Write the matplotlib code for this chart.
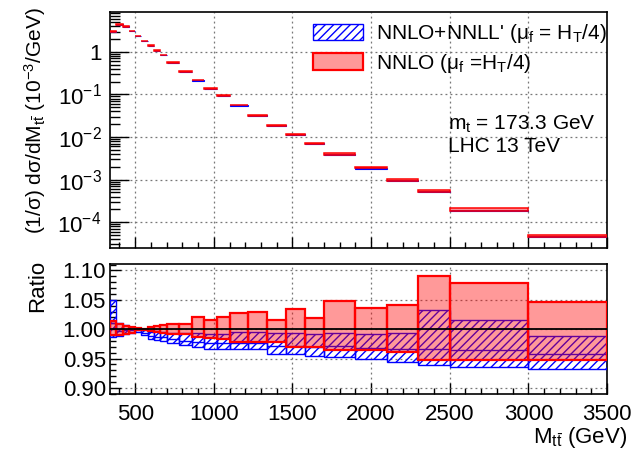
import matplotlib
matplotlib.use("Agg")
import matplotlib.pyplot as plt
import numpy as np
from matplotlib.patches import Patch
from matplotlib.ticker import FixedLocator, MultipleLocator, LogLocator, NullFormatter

plt.rcParams["font.family"] = ["Liberation Sans", "DejaVu Sans"]
plt.rcParams["mathtext.fontset"] = "custom"
plt.rcParams["mathtext.rm"] = "Liberation Sans"
plt.rcParams["mathtext.it"] = "Liberation Sans:italic"
plt.rcParams["hatch.linewidth"] = 1.0

# bin edges of M_tt (GeV)
edges = [340, 380, 420, 460, 500, 540, 580, 620, 660, 700, 780, 860, 940, 1020,
         1100, 1220, 1340, 1460, 1580, 1700, 1900, 2100, 2300, 2500, 3000, 3500]

# NNLO central values (10^-3 / GeV)
central = [3.0, 4.39, 3.94, 3.1, 2.42, 1.85, 1.41, 1.08, 0.84, 0.56, 0.347, 0.217,
           0.139, 0.093, 0.0564, 0.0323, 0.0188, 0.0116, 0.00713, 0.00401, 0.00191,
           0.000985, 0.000535, 0.000195, 4.72e-5]

# NNLO band / NNLO central
nnlo_lo = [0.990, 0.990, 0.992, 0.994, 0.998, 0.999, 0.997, 0.996, 0.993, 0.991, 0.991,
           0.986, 0.985, 0.983, 0.979, 0.978, 0.979, 0.969, 0.970, 0.965, 0.965, 0.961,
           0.947, 0.947, 0.947]
nnlo_hi = [1.014, 1.009, 1.006, 1.004, 1.002, 1.001, 1.003, 1.005, 1.007, 1.0085, 1.0085,
           1.020, 1.016, 1.021, 1.0275, 1.029, 1.015, 1.035, 1.019, 1.048, 1.036, 1.042,
           1.091, 1.078, 1.047]

# NNLO+NNLL' band / NNLO central
nnll_lo = [0.986, 0.988, 0.992, 0.994, 0.995, 0.990, 0.983, 0.981, 0.980, 0.976, 0.973,
           0.970, 0.967, 0.966, 0.966, 0.966, 0.958, 0.957, 0.954, 0.953, 0.949, 0.945,
           0.939, 0.9365, 0.9326]
nnll_hi = [1.049, 1.011, 1.007, 1.004, 1.001, 0.998, 0.996, 0.997, 0.996, 0.994, 0.993,
           0.993, 0.992, 0.992, 0.9955, 0.9955, 0.993, 0.994, 0.992, 0.994, 0.992, 0.993,
           1.032, 1.015, 0.9888]
nnll_c = [1.010, 0.997, 0.998, 0.998, 0.998, 0.994, 0.988, 0.987, 0.986, 0.983, 0.980,
          0.979, 0.977, 0.976, 0.977, 0.977, 0.972, 0.972, 0.969, 0.971, 0.968, 0.966,
          0.966, 0.9646, 0.957]

edges_a = np.array(edges, dtype=float)
left = edges_a[:-1]
width = np.diff(edges_a)
c = np.array(central)

W, H = 633, 454
fig = plt.figure(figsize=(W / 100, H / 100), dpi=100)
ax1 = fig.add_axes([110 / W, 1 - 248 / H, 497 / W, 236 / H])
ax2 = fig.add_axes([110 / W, 1 - 394 / H, 497 / W, 130 / H])

red_face = (1.0, 0.0, 0.0, 0.4)


def draw_bands(ax, scale, lw_red, lw_blue):
    lo_b = np.array(nnll_lo) * scale
    hi_b = np.array(nnll_hi) * scale
    ax.bar(left, hi_b - lo_b, bottom=lo_b, width=width, align="edge",
           facecolor="none", edgecolor="blue", hatch="////", linewidth=lw_blue, zorder=3)
    lo_r = np.array(nnlo_lo) * scale
    hi_r = np.array(nnlo_hi) * scale
    ax.bar(left, hi_r - lo_r, bottom=lo_r, width=width, align="edge",
           facecolor=red_face, edgecolor="red", linewidth=lw_red, zorder=4)


draw_bands(ax1, c, 1.1, 0.8)
draw_bands(ax2, 1.0, 1.6, 1.0)
ax2.hlines(nnll_c, left, left + width, colors="blue", linewidth=1.0, zorder=3)
ax2.axhline(1.0, color="black", linewidth=1.3, zorder=5)

for ax in (ax1, ax2):
    ax.set_xlim(340, 3500)
    ax.xaxis.set_major_locator(FixedLocator([500, 1000, 1500, 2000, 2500, 3000, 3500]))
    ax.xaxis.set_minor_locator(MultipleLocator(100))
    ax.grid(True, which="major", linestyle=(0, (1.5, 2.5)), color="#777777", linewidth=0.9)
    ax.set_axisbelow(True)
    ax.tick_params(which="both", direction="in", top=False, right=False, labelsize=16,
                   width=1.0, color="black")
    for s in ax.spines.values():
        s.set_linewidth(1.2)

ax1.set_yscale("log")
ax1.set_ylim(2.47e-5, 8.66)
ax1.yaxis.set_major_locator(FixedLocator([1e-4, 1e-3, 1e-2, 1e-1, 1]))
ax1.set_yticklabels([r"10$^{-4}$", r"10$^{-3}$", r"10$^{-2}$", r"10$^{-1}$", "1"])
ax1.yaxis.set_minor_locator(LogLocator(base=10, subs=np.arange(2, 10) * 1.0, numticks=20))
ax1.yaxis.set_minor_formatter(NullFormatter())
ax1.tick_params(axis="y", which="major", length=14, pad=6)
ax1.tick_params(axis="y", which="minor", length=7)
ax1.tick_params(axis="x", which="major", length=8, labelbottom=False)
ax1.tick_params(axis="x", which="minor", length=4)

ax2.set_ylim(0.8897, 1.111)
ax2.yaxis.set_major_locator(FixedLocator([0.90, 0.95, 1.00, 1.05, 1.10]))
ax2.set_yticklabels(["0.90", "0.95", "1.00", "1.05", "1.10"])
ax2.yaxis.set_minor_locator(MultipleLocator(0.01))
ax2.tick_params(axis="y", which="major", length=8, pad=3)
ax2.tick_params(axis="y", which="minor", length=4)
ax2.tick_params(axis="x", which="major", length=8, pad=7)
ax2.tick_params(axis="x", which="minor", length=4)

fig.text(35 / W, 1 - 121 / H, r"(1/σ) dσ/dM$_{\mathrm{t\bar{t}}}$ (10$^{-3}$/GeV)",
         rotation=90, ha="center", va="center", fontsize=15)
fig.text(38 / W, 1 - 286 / H, "Ratio", rotation=90, ha="center", va="center", fontsize=16)
fig.text(627 / W, 1 - 438 / H, r"M$_{\mathrm{t\bar{t}}}$ (GeV)", ha="right", va="center",
         fontsize=16)

ax1.text(448 / W, 1 - 124 / H, r"m$_{\mathrm{t}}$ = 173.3 GeV", transform=fig.transFigure,
         ha="left", va="center", fontsize=15)
ax1.text(448 / W, 1 - 147 / H, "LHC 13 TeV", transform=fig.transFigure,
         ha="left", va="center", fontsize=15)

handles = [
    Patch(facecolor="none", edgecolor="blue", hatch="////", linewidth=1.0,
          label=r"NNLO+NNLL' ($\mathrm{\mu_f}$ = H$_{\mathrm{T}}$/4)"),
    Patch(facecolor=red_face, edgecolor="red", linewidth=1.6,
          label=r"NNLO ($\mathrm{\mu_f}$ =H$_{\mathrm{T}}$/4)"),
]
fig.legend(handles=handles, loc="upper left", bbox_to_anchor=(305 / W, 1 - 14 / H),
           frameon=False, fontsize=15, handlelength=2.4, handleheight=0.85,
           handletextpad=0.6, labelspacing=0.3, borderaxespad=0.0)

fig.savefig("out.png", dpi=100)
